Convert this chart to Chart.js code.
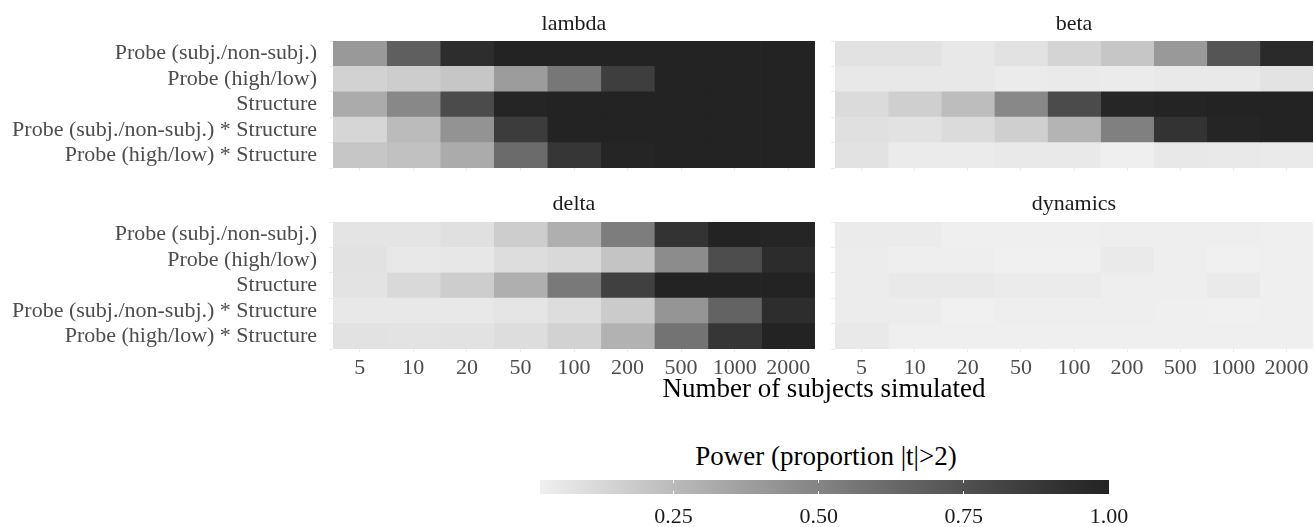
<!DOCTYPE html>
<html>
<head>
<meta charset="utf-8">
<script src="https://cdn.jsdelivr.net/npm/chart.js@4.4.1/dist/chart.umd.min.js"></script>
<style>
  body { margin: 0; background: #fff; width: 1314px; height: 527px; position: relative; overflow: hidden; font-family: "Liberation Serif", serif; }
  .box { position: absolute; }
  .txt { position: absolute; transform: translate(-50%, -50%); white-space: nowrap; color: #000; font-size: 27px; }
</style>
</head>
<body>
<div class="box" style="left:0;top:0;width:820px;height:171px"><canvas id="lambda"></canvas></div>
<div class="box" style="left:825px;top:0;width:489px;height:171px"><canvas id="beta"></canvas></div>
<div class="box" style="left:0;top:180px;width:820px;height:199px"><canvas id="delta"></canvas></div>
<div class="box" style="left:825px;top:180px;width:489px;height:199px"><canvas id="dynamics"></canvas></div>
<div class="txt" style="left:824px;top:388px">Number of subjects simulated</div>
<div class="txt" style="left:826px;top:456px">Power (proportion |t|&gt;2)</div>
<div class="box" style="left:500px;top:470px;width:650px;height:57px"><canvas id="legend"></canvas></div>

<script>
const terms = ['Probe (subj./non-subj.)', 'Probe (high/low)', 'Structure',
  'Probe (subj./non-subj.) * Structure', 'Probe (high/low) * Structure'];
const nSubjects = ['5', '10', '20', '50', '100', '200', '500', '1000', '2000'];

// power, one row per term, one column per number of subjects
const lambdaPower = [
  [0.40, 0.68, 0.94, 1.00, 1.00, 1.00, 1.00, 1.00, 1.00],
  [0.15, 0.17, 0.20, 0.39, 0.56, 0.85, 1.00, 1.00, 1.00],
  [0.32, 0.48, 0.78, 0.99, 1.00, 1.00, 1.00, 1.00, 1.00],
  [0.13, 0.25, 0.43, 0.86, 1.00, 1.00, 1.00, 1.00, 1.00],
  [0.20, 0.22, 0.32, 0.62, 0.89, 0.99, 1.00, 1.00, 1.00]
];
const betaPower = [
  [0.08, 0.08, 0.055, 0.08, 0.14, 0.20, 0.40, 0.73, 0.96],
  [0.055, 0.055, 0.055, 0.04, 0.045, 0.04, 0.05, 0.05, 0.076],
  [0.11, 0.16, 0.24, 0.48, 0.78, 0.98, 0.995, 1.00, 1.00],
  [0.09, 0.08, 0.11, 0.16, 0.28, 0.52, 0.91, 0.99, 1.00],
  [0.08, 0.04, 0.04, 0.05, 0.05, 0.025, 0.055, 0.05, 0.045]
];
const deltaPower = [
  [0.07, 0.07, 0.09, 0.17, 0.30, 0.53, 0.91, 1.00, 0.99],
  [0.08, 0.055, 0.06, 0.10, 0.12, 0.21, 0.46, 0.77, 0.95],
  [0.075, 0.12, 0.17, 0.30, 0.55, 0.84, 1.00, 1.00, 1.00],
  [0.055, 0.055, 0.055, 0.067, 0.10, 0.18, 0.42, 0.66, 0.94],
  [0.08, 0.075, 0.08, 0.10, 0.15, 0.29, 0.58, 0.89, 1.00]
];
const dynamicsPower = [
  [0.04, 0.04, 0.025, 0.025, 0.025, 0.03, 0.03, 0.03, 0.025],
  [0.035, 0.03, 0.03, 0.02, 0.02, 0.045, 0.03, 0.02, 0.025],
  [0.035, 0.05, 0.05, 0.04, 0.04, 0.03, 0.03, 0.045, 0.025],
  [0.035, 0.035, 0.02, 0.03, 0.03, 0.03, 0.025, 0.02, 0.025],
  [0.05, 0.025, 0.025, 0.025, 0.025, 0.025, 0.025, 0.025, 0.025]
];
const legendTicks = [0.25, 0.50, 0.75, 1.00];

const allValues = [lambdaPower, betaPower, deltaPower, dynamicsPower].flat(2);
const vMin = Math.min(...allValues);
const vMax = Math.max(...allValues);

// grey gradient interpolated in L* like ggplot does
function lstar(g) {
  const c = g / 255;
  const lin = c <= 0.04045 ? c / 12.92 : Math.pow((c + 0.055) / 1.055, 2.4);
  return lin > 0.008856 ? 116 * Math.cbrt(lin) - 16 : 903.3 * lin;
}
const lowL = lstar(240);
const highL = lstar(35);
function fill(v) {
  const t = (v - vMin) / (vMax - vMin);
  const L = lowL + (highL - lowL) * t;
  const Y = L > 8 ? Math.pow((L + 16) / 116, 3) : L / 903.3;
  const s = Y <= 0.0031308 ? 12.92 * Y : 1.055 * Math.pow(Y, 1 / 2.4) - 0.055;
  const g = Math.round(255 * s);
  return `rgb(${g},${g},${g})`;
}

const font = { family: 'Liberation Serif', size: 22 };
const axisGrey = '#4d4d4d';

function panel(id, title, values, showRows, showN) {
  new Chart(document.getElementById(id), {
    type: 'bar',
    data: {
      labels: terms,
      datasets: nSubjects.map((n, j) => ({
        label: n,
        data: terms.map(() => 1),
        backgroundColor: values.map(row => fill(row[j])),
        borderWidth: 0,
        barPercentage: 1,
        categoryPercentage: 1
      }))
    },
    options: {
      indexAxis: 'y',
      responsive: true,
      maintainAspectRatio: false,
      animation: false,
      layout: { padding: { right: showRows ? 5 : 1 } },
      plugins: {
        legend: { display: false },
        tooltip: { enabled: false },
        title: {
          display: true,
          fullSize: false,
          text: title,
          color: '#1a1a1a',
          font: { family: 'Liberation Serif', size: 22, weight: 'normal' },
          padding: showN ? { top: 11, bottom: 4.6 } : { top: 11, bottom: 3.6 }
        }
      },
      scales: {
        x: {
          type: 'linear',
          stacked: true,
          min: 0,
          max: nSubjects.length,
          afterBuildTicks: s => { s.ticks = nSubjects.map((n, i) => ({ value: i + 0.5 })); },
          afterFit: s => { s.height = showN ? 30 : 3; },
          ticks: {
            display: showN,
            autoSkip: false,
            maxRotation: 0,
            padding: 3,
            color: axisGrey,
            font: font,
            callback: (v, i) => nSubjects[i]
          },
          grid: { drawOnChartArea: false, tickLength: 3, tickColor: '#ebebeb' },
          border: { display: false }
        },
        y: {
          stacked: true,
          afterFit: s => {
            s.width = showRows ? 333 : 10;
            s.paddingTop = 0;
            s.paddingBottom = 0;
          },
          ticks: { display: showRows, autoSkip: false, padding: 12, color: axisGrey, font: font },
          grid: { drawOnChartArea: false, tickLength: 4, tickColor: '#ebebeb' },
          border: { display: false }
        }
      }
    }
  });
}

panel('lambda', 'lambda', lambdaPower, true, false);
panel('beta', 'beta', betaPower, false, false);
panel('delta', 'delta', deltaPower, true, true);
panel('dynamics', 'dynamics', dynamicsPower, false, true);

new Chart(document.getElementById('legend'), {
  type: 'bar',
  data: {
    labels: ['power'],
    datasets: [{
      data: [[vMin, vMax]],
      borderWidth: 0,
      barPercentage: 1,
      categoryPercentage: 1,
      backgroundColor: ctx => {
        const chart = ctx.chart;
        if (!chart.chartArea) return fill(vMin);
        const xs = chart.scales.x;
        const grad = chart.ctx.createLinearGradient(xs.getPixelForValue(vMin), 0, xs.getPixelForValue(vMax), 0);
        for (let i = 0; i <= 20; i++) {
          grad.addColorStop(i / 20, fill(vMin + (vMax - vMin) * i / 20));
        }
        return grad;
      }
    }]
  },
  options: {
    indexAxis: 'y',
    responsive: true,
    maintainAspectRatio: false,
    animation: false,
    layout: { padding: { left: 40, right: 41, top: 10 } },
    plugins: { legend: { display: false }, tooltip: { enabled: false } },
    scales: {
      x: {
        type: 'linear',
        min: vMin,
        max: vMax,
        afterBuildTicks: s => { s.ticks = legendTicks.map(v => ({ value: v })); },
        afterFit: s => { s.height = 33; },
        ticks: {
          autoSkip: false,
          maxRotation: 0,
          padding: 10,
          color: '#1a1a1a',
          font: font,
          callback: v => v.toFixed(2)
        },
        grid: { z: 1, color: '#ffffff', drawTicks: false },
        border: { display: false, dash: [3, 8] }
      },
      y: { display: false }
    }
  }
});
</script>
</body>
</html>
